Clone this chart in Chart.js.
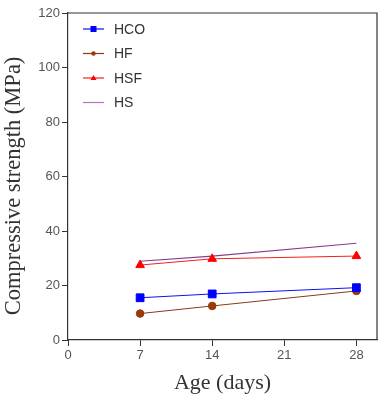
<!DOCTYPE html>
<html>
<head>
<meta charset="utf-8">
<script src="https://cdn.jsdelivr.net/npm/chart.js@4"></script>
<style>
  html, body { margin: 0; padding: 0; background: #fff; }
  #wrap { width: 379px; height: 401px; }
</style>
</head>
<body>
<div id="wrap"><canvas id="c" width="379" height="401"></canvas></div>
<script>
const ages = [7, 14, 28];
const xTicks = [0, 7, 14, 21, 28];
const yTicks = [0, 20, 40, 60, 80, 100, 120];
const hco = [15.5, 16.9, 19.2];
const hf = [9.7, 12.5, 18.0];
const hsf = [27.5, 29.8, 30.8];
const hs = [28.9, 30.8, 35.5];

const pts = (ys) => ages.map((x, i) => ({ x: x, y: ys[i] }));

// legend drawn inside the plot, line + small marker like the original
const insideLegend = {
  id: "insideLegend",
  afterDraw(chart) {
    const ctx = chart.ctx;
    const a = chart.chartArea;
    // close the box on top and right
    ctx.save();
    ctx.strokeStyle = "#333";
    ctx.lineWidth = 1.2;
    ctx.beginPath();
    ctx.moveTo(a.left, a.top);
    ctx.lineTo(a.right, a.top);
    ctx.lineTo(a.right, a.bottom);
    ctx.stroke();

    // y title, sits a bit below the axis middle in the original
    ctx.save();
    ctx.translate(14, 186);
    ctx.rotate(-Math.PI / 2);
    ctx.fillStyle = "#333";
    ctx.font = "22.5px 'Liberation Serif', 'Times New Roman', serif";
    ctx.textAlign = "center";
    ctx.textBaseline = "middle";
    ctx.fillText("Compressive strength (MPa)", 0, 0);
    ctx.restore();

    chart.data.datasets.forEach((ds, i) => {
      const y = a.top + 16 + i * 24.5;
      const x0 = a.left + 15;
      ctx.strokeStyle = ds.legendColor || ds.borderColor;
      ctx.lineWidth = 1.2;
      ctx.beginPath();
      ctx.moveTo(x0, y);
      ctx.lineTo(x0 + 21, y);
      ctx.stroke();
      if (ds.pointRadius > 0) {
        ctx.fillStyle = ds.pointBackgroundColor;
        const cx = x0 + 10.5;
        if (ds.pointStyle === "rect") {
          ctx.fillRect(cx - 3, y - 3, 6, 6);
        } else if (ds.pointStyle === "triangle") {
          ctx.beginPath();
          ctx.moveTo(cx, y - 3);
          ctx.lineTo(cx + 3, y + 2);
          ctx.lineTo(cx - 3, y + 2);
          ctx.closePath();
          ctx.fill();
        } else {
          ctx.beginPath();
          ctx.arc(cx, y, 2.2, 0, Math.PI * 2);
          ctx.fill();
        }
      }
      ctx.fillStyle = "#333";
      ctx.font = "14px 'Liberation Sans', Arial, sans-serif";
      ctx.textBaseline = "middle";
      ctx.textAlign = "left";
      ctx.fillText(ds.label, x0 + 31, y + 1);
    });
    ctx.restore();
  },
};

new Chart(document.getElementById("c"), {
  type: "line",
  data: {
    datasets: [
      {
        label: "HCO",
        data: pts(hco),
        borderColor: "#1010f0",
        pointBackgroundColor: "#0000ff",
        pointBorderColor: "#0000ff",
        pointStyle: "rect",
        pointRadius: 5.5,
        borderWidth: 1,
      },
      {
        label: "HF",
        data: pts(hf),
        borderColor: "#8a3a1a",
        pointBackgroundColor: "#9a3a0a",
        pointBorderColor: "#9a3a0a",
        pointStyle: "circle",
        pointRadius: 3.8,
        borderWidth: 1,
      },
      {
        label: "HSF",
        data: pts(hsf),
        borderColor: "#f02020",
        pointBackgroundColor: "#ff0000",
        pointBorderColor: "#ff0000",
        pointStyle: "triangle",
        pointRadius: 5,
        borderWidth: 1,
      },
      {
        label: "HS",
        data: pts(hs),
        borderColor: "#8a3c8a",
        legendColor: "#c070c0",
        pointRadius: 0,
        borderWidth: 1.2,
      },
    ],
  },
  options: {
    responsive: false,
    animation: false,
    layout: { autoPadding: false, padding: { top: 13, right: 2, left: 0, bottom: 0 } },
    plugins: {
      legend: { display: false },
      tooltip: { enabled: false },
    },
    scales: {
      x: {
        type: "linear",
        min: 0,
        max: 30,
        afterBuildTicks: (s) => { s.ticks = xTicks.map((v) => ({ value: v })); },
        afterFit: (s) => { s.height = 61; s.paddingLeft = 0; s.paddingRight = 0; },
        grid: { drawOnChartArea: false, color: "#333", tickLength: 6 },
        border: { color: "#333", width: 1.2 },
        ticks: {
          color: "#555",
          padding: 2,
          font: { family: "'Liberation Sans', Arial, sans-serif", size: 13 },
        },
        title: {
          display: true,
          text: "Age (days)",
          color: "#333",
          font: { family: "'Liberation Serif', 'Times New Roman', serif", size: 22, lineHeight: 1.2 },
          padding: { top: 0, bottom: 5 },
        },
      },
      y: {
        min: 0,
        max: 120,
        afterBuildTicks: (s) => { s.ticks = yTicks.map((v) => ({ value: v })); },
        afterFit: (s) => { s.width = 68; s.paddingTop = 0; s.paddingBottom = 0; },
        grid: { drawOnChartArea: false, color: "#333", tickLength: 6 },
        border: { color: "#333", width: 1.2 },
        ticks: {
          color: "#555",
          padding: 2,
          font: { family: "'Liberation Sans', Arial, sans-serif", size: 13 },
        },
      },
    },
  },
  plugins: [insideLegend],
});
</script>
</body>
</html>
